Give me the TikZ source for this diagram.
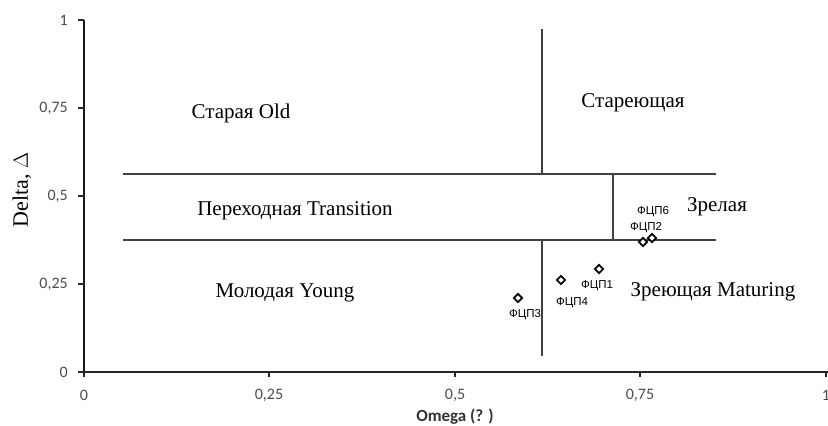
\documentclass[tikz,border=0pt]{standalone}
\usepackage{fontspec}
\setmainfont{Liberation Serif}
\newfontfamily\tickfont{Carlito}
\newfontfamily\ptfont{Liberation Sans}
\usetikzlibrary{shapes.geometric}
\begin{document}
\begin{tikzpicture}[x=1pt,y=-1pt,
  region/.style={font=\fontsize{21}{24}\selectfont, inner sep=0pt},
  zoneline/.style={draw=black!75, line width=1.1pt},
  ticklab/.style={font=\tickfont\fontsize{16}{18}\selectfont, text=black!70, inner sep=0pt},
  tickmark/.style={draw=black!85, line width=1.4pt},
  pt/.style={diamond, draw=black, fill=white, line width=1.8pt, minimum size=9pt, inner sep=0pt},
  ptlab/.style={font=\ptfont\fontsize{11.5}{12}\selectfont, inner sep=0pt}]
\useasboundingbox (0,0) rectangle (828,426);
% zone lines
\coordinate (uvt) at (542,29);
\coordinate (uvb) at (542,174);
\coordinate (uhl) at (123,174);
\coordinate (uhr) at (716,174);
\coordinate (lhl) at (123,240);
\coordinate (lhr) at (716,240);
\coordinate (mvt) at (613,174);
\coordinate (mvb) at (613,240);
\coordinate (lvt) at (542,240);
\coordinate (lvb) at (542,356);
\draw[zoneline] (uvt) -- (uvb);
\draw[zoneline] (uhl) -- (uhr);
\draw[zoneline] (lhl) -- (lhr);
\draw[zoneline] (mvt) -- (mvb);
\draw[zoneline] (lvt) -- (lvb);
% axes
\coordinate (yat) at (84,20);
\coordinate (yab) at (84,377);
\coordinate (xal) at (78,372);
\coordinate (xar) at (830,372);
\draw[draw=black!85, line width=1.3pt] (xal) -- (xar);
\draw[draw=black!90, line width=2.2pt] (yat) -- (yab);
\foreach \yy/\lab in {20/1, 108/{0,75}, 196/{0,5}, 284/{0,25}, 372/0} {
  \draw[tickmark] (78,\yy) -- (84,\yy);
  \node[ticklab, anchor=east] (yl\yy) at (68,\yy) {\lab};
}
\foreach \xx/\lab in {84/0, 269/{0,25}, 455/{0,5}, 640/{0,75}, 826/1} {
  \draw[tickmark] (\xx,372) -- (\xx,377);
  \node[ticklab] (xl\xx) at (\xx,395) {\lab};
}
\node[font=\tickfont\bfseries\fontsize{17}{19}\selectfont, text=black!80, inner sep=0pt] (xtitle) at (455,417) {Omega (? )};
\node[font=\fontsize{22}{24}\selectfont, rotate=90, inner sep=0pt] (ytitle) at (22,190) {Delta, $\Delta$};
% region labels
\node[region] (old) at (241,113) {Старая Old};
\node[region] (aging) at (633,103) {Стареющая};
\node[region] (trans) at (295,211) {Переходная Transition};
\node[region] (mature) at (717,207) {Зрелая};
\node[region] (young) at (285,293) {Молодая Young};
\node[region] (maturing) at (713,292) {Зреющая Maturing};
% data points
\node[pt] (p6) at (652,238) {};
\node[pt] (p2) at (643,242) {};
\node[pt] (p1) at (599,269) {};
\node[pt] (p4) at (561,280) {};
\node[pt] (p3) at (518,298) {};
\node[ptlab] (l6) at (653,212) {ФЦП6};
\node[ptlab] (l2) at (646,228) {ФЦП2};
\node[ptlab] (l1) at (597,286) {ФЦП1};
\node[ptlab] (l4) at (572,303) {ФЦП4};
\node[ptlab] (l3) at (525,315) {ФЦП3};
\end{tikzpicture}
\end{document}
